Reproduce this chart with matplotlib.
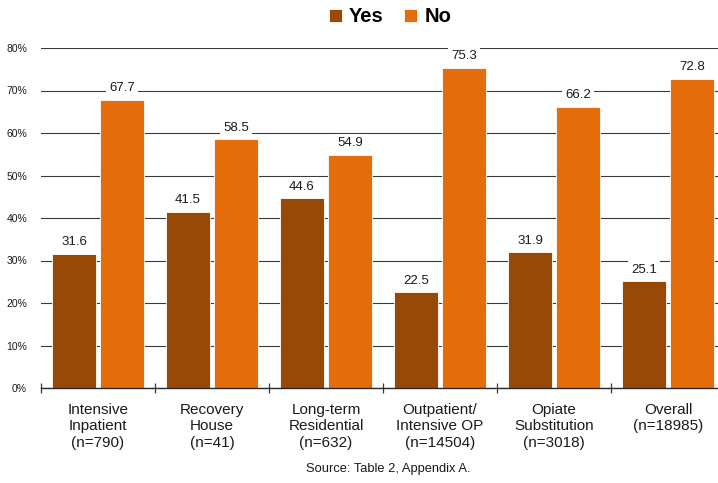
import numpy as np
import matplotlib.pyplot as plt
from matplotlib.ticker import FuncFormatter

plt.rcParams['font.family'] = ['Liberation Sans', 'DejaVu Sans']

# Program categories and percentages
categories = ['Intensive\nInpatient\n(n=790)', 'Recovery\nHouse\n(n=41)',
              'Long-term\nResidential\n(n=632)', 'Outpatient/\nIntensive OP\n(n=14504)',
              'Opiate\nSubstitution\n(n=3018)', 'Overall\n(n=18985)']
yes_vals = [31.6, 41.5, 44.6, 22.5, 31.9, 25.1]
no_vals = [67.7, 58.5, 54.9, 75.3, 66.2, 72.8]

yes_color = '#984807'
no_color = '#E46C0A'

fig = plt.figure(figsize=(7.18, 4.83), dpi=100)
ax = fig.add_axes([41 / 718, 95 / 483, 684 / 718, 340 / 483])

x = np.arange(len(categories))
w = 0.38
off = 0.21
b1 = ax.bar(x - off, yes_vals, w, color=yes_color, edgecolor='white', linewidth=0.6, zorder=3, label='Yes')
b2 = ax.bar(x + off, no_vals, w, color=no_color, edgecolor='white', linewidth=0.6, zorder=3, label='No')

for bars, vals in ((b1, yes_vals), (b2, no_vals)):
    for rect, v in zip(bars, vals):
        ax.annotate(f'{v:.1f}', (rect.get_x() + rect.get_width() / 2, v),
                    xytext=(0, 8.5), textcoords='offset points', ha='center', va='center',
                    fontsize=9.5, color='#1a1a1a', zorder=4,
                    bbox=dict(boxstyle='square,pad=0.25', fc='white', ec='none'))

ax.set_xlim(-0.5, len(categories) - 0.5)
ax.set_ylim(0, 80)
ax.set_yticks(np.arange(0, 81, 10))
ax.yaxis.set_major_formatter(FuncFormatter(lambda v, p: f'{v:.0f}%'))
ax.tick_params(axis='y', length=0, labelsize=7.5, pad=10, labelcolor='#1a1a1a')
ax.yaxis.grid(True, color='#3a3a3a', linewidth=0.8, zorder=0)

# group separators as major ticks, category names as minor ticks
ax.set_xticks(np.arange(len(categories) + 1) - 0.5, minor=False)
ax.set_xticklabels([])
ax.set_xticks(x, minor=True)
ax.set_xticklabels(categories, minor=True, fontsize=11, color='#1a1a1a', linespacing=1.2)
ax.tick_params(axis='x', which='major', direction='inout', length=7, width=0.9, color='#3a3a3a')
ax.tick_params(axis='x', which='minor', length=0, pad=11)

for s in ('top', 'right', 'left'):
    ax.spines[s].set_visible(False)
ax.spines['bottom'].set_color('#2a2a2a')
ax.spines['bottom'].set_linewidth(1.0)
ax.spines['bottom'].set_zorder(5)

leg = fig.legend(handles=[b1, b2], loc='center', bbox_to_anchor=(390 / 718, 1 - 17 / 483),
                 ncol=2, frameon=False, handlelength=0.65, handleheight=0.65,
                 handletextpad=0.35, columnspacing=1.0, prop={'weight': 'bold', 'size': 14.5})

fig.text(388 / 718, 1 - 469 / 483, 'Source: Table 2, Appendix A.', ha='center', va='center',
         fontsize=9.3, color='#1a1a1a')

fig.savefig('out.png', dpi=100)
